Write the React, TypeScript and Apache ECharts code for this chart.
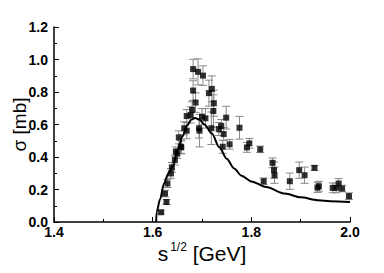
import React, { useEffect, useRef } from "react";
import * as echarts from "echarts";

const xTicks = [1.4, 1.6, 1.8, 2.0];
const yTicks = [0, 0.2, 0.4, 0.6, 0.8, 1.0, 1.2];

// measured points: [sqrt(s), sigma, error]
const dataX = [1.617,1.625,1.628,1.630,1.637,1.639,1.645,1.647,1.650,1.653,1.657,1.658,1.664,1.669,1.669,1.677,1.680,1.682,1.682,1.687,1.692,1.694,1.695,1.700,1.702,1.707,1.714,1.719,1.720,1.723,1.724,1.734,1.739,1.742,1.744,1.749,1.756,1.776,1.791,1.796,1.818,1.825,1.843,1.846,1.847,1.878,1.897,1.908,1.928,1.934,1.937,1.965,1.972,1.977,1.984,1.998];
const dataY = [0.06,0.175,0.123,0.237,0.299,0.336,0.381,0.432,0.422,0.521,0.463,0.459,0.577,0.562,0.652,0.659,0.69,0.941,0.809,0.735,0.924,0.577,0.562,0.648,0.901,0.638,0.793,0.577,0.819,0.683,0.731,0.572,0.591,0.463,0.541,0.642,0.478,0.58,0.459,0.484,0.447,0.251,0.364,0.319,0.288,0.251,0.319,0.288,0.333,0.212,0.22,0.21,0.21,0.237,0.206,0.159];
const dataErr = [0.01,0.02,0.015,0.025,0.03,0.03,0.03,0.03,0.03,0.04,0.04,0.04,0.04,0.05,0.04,0.05,0.05,0.06,0.06,0.06,0.08,0.06,0.1,0.05,0.06,0.06,0.08,0.1,0.08,0.1,0.08,0.04,0.04,0.04,0.04,0.07,0.03,0.07,0.03,0.03,0.02,0.02,0.03,0.05,0.05,0.05,0.05,0.05,0.015,0.03,0.03,0.03,0.03,0.03,0.02,0.02];

// model curve
const curveX = [1.607,1.608,1.615,1.623,1.632,1.640,1.653,1.660,1.670,1.678,1.686,1.695,1.705,1.720,1.735,1.750,1.765,1.780,1.800,1.830,1.868,1.900,1.935,1.960,2.000];
const curveY = [0,0.06,0.14,0.237,0.30,0.34,0.46,0.524,0.595,0.63,0.64,0.63,0.60,0.545,0.46,0.39,0.33,0.285,0.25,0.215,0.175,0.152,0.134,0.128,0.123];

export default function App() {
  const ref = useRef<HTMLDivElement>(null);
  useEffect(() => {
    if (!ref.current) return;
    const chart = echarts.init(ref.current, undefined, { renderer: "svg" });
    const pts = dataX.map((x, i) => [x, dataY[i], dataErr[i]]);
    const curve = curveX.map((x, i) => [x, curveY[i]]);
    const font = "'Liberation Sans', Arial, sans-serif";
    chart.setOption({
      animation: false,
      grid: { left: 46, right: 34, top: 19, bottom: 51, outerBoundsMode: "none", containLabel: false },
      xAxis: {
        type: "value",
        min: 1.4,
        max: 2.0,
        interval: 0.2,
        axisLine: { lineStyle: { color: "#000", width: 1.5 } },
        axisTick: { inside: true, length: 5, lineStyle: { color: "#000" } },
        minorTick: { show: true, splitNumber: 2, length: 3, lineStyle: { color: "#000" } },
        splitLine: { show: false },
        axisLabel: {
          color: "#000",
          fontWeight: "bold",
          fontSize: 14,
          fontFamily: font,
          margin: 3,
          formatter: (v: number) => v.toFixed(1),
        },
        name: "{a|s}{b|1/2}{a| [GeV]}",
        nameLocation: "middle",
        nameGap: 19,
        nameMoveOverlap: false,
        nameTextStyle: {
          rich: {
            a: { fontSize: 21, fontFamily: font, color: "#000" },
            b: { fontSize: 12, fontFamily: font, color: "#000", verticalAlign: "top", padding: [0, 0, 12, 2] },
          },
        },
      },
      yAxis: {
        type: "value",
        min: 0,
        max: 1.2,
        interval: 0.2,
        axisLine: { show: true, lineStyle: { color: "#000", width: 1.5 } },
        axisTick: { show: true, inside: true, length: 5, lineStyle: { color: "#000" } },
        minorTick: { show: true, splitNumber: 2, length: 3, lineStyle: { color: "#000" } },
        splitLine: { show: false },
        axisLabel: {
          color: "#000",
          fontWeight: "bold",
          fontSize: 14,
          fontFamily: font,
          margin: 6,
          formatter: (v: number) => v.toFixed(1),
        },
        name: "σ [mb]",
        nameLocation: "middle",
        nameGap: 25,
        nameMoveOverlap: false,
        nameTextStyle: { fontSize: 19, fontFamily: font, color: "#000" },
      },
      series: [
        {
          type: "custom",
          data: pts,
          z: 1,
          renderItem: (params: any, api: any) => {
            const x = api.value(0);
            const y = api.value(1);
            const e = api.value(2);
            const top = api.coord([x, y + e]);
            const bot = api.coord([x, y - e]);
            const w = 4;
            const st = { stroke: "#888", lineWidth: 1 };
            return {
              type: "group",
              children: [
                { type: "line", shape: { x1: top[0], y1: top[1], x2: bot[0], y2: bot[1] }, style: st },
                { type: "line", shape: { x1: top[0] - w, y1: top[1], x2: top[0] + w, y2: top[1] }, style: st },
                { type: "line", shape: { x1: bot[0] - w, y1: bot[1], x2: bot[0] + w, y2: bot[1] }, style: st },
              ],
            };
          },
        },
        {
          type: "line",
          data: curve,
          smooth: 0.3,
          smoothMonotone: "x",
          showSymbol: false,
          lineStyle: { color: "#000", width: 2 },
          z: 2,
        },
        {
          type: "scatter",
          data: pts.map((p) => [p[0], p[1]]),
          symbol: "rect",
          symbolSize: 6,
          itemStyle: { color: "#000" },
          z: 3,
        },
      ],
    });
    return () => chart.dispose();
  }, []);
  return <div ref={ref} style={{ width: 376, height: 265 }} />;
}
